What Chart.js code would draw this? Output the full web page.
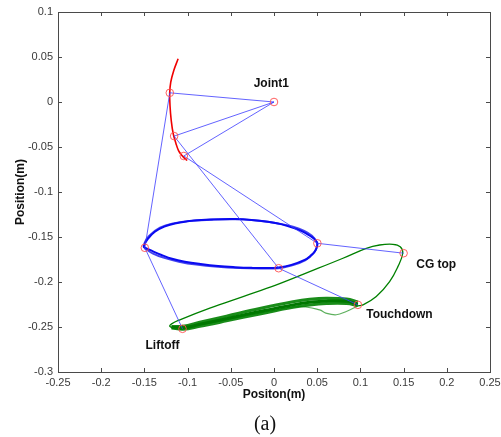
<!DOCTYPE html>
<html><head><meta charset="utf-8">
<script src="https://cdn.jsdelivr.net/npm/chart.js@4"></script>
<style>
html,body{margin:0;padding:0;background:#fff;}
#wrap{position:relative;width:501px;height:437px;}
#cap{position:absolute;left:0;width:530px;top:411px;line-height:24px;text-align:center;font-family:"Liberation Serif","Times New Roman",serif;font-size:20px;color:#111;}
</style></head>
<body><div id="wrap"><canvas id="c" width="501" height="437"></canvas><div id="cap">(a)</div></div>
<script>
// ---- axis ticks ----
const xTicks = [-0.25,-0.2,-0.15,-0.1,-0.05,0,0.05,0.1,0.15,0.2,0.25];
const yTicks = [-0.3,-0.25,-0.2,-0.15,-0.1,-0.05,0,0.05,0.1];

// ---- knee trajectory (red) ----
const kneeX = [-0.111,-0.1160,-0.1195,-0.1207,-0.1203,-0.1190,-0.1167,-0.1135,-0.1105,-0.1070,-0.1030,-0.1005];
const kneeY = [0.048,0.035,0.022,0.010,-0.005,-0.020,-0.035,-0.046,-0.054,-0.059,-0.063,-0.065];

// ---- ankle trajectory (blue loops) ----
const ankleAX = [-0.1514,-0.146,-0.1379,-0.127,-0.1148,-0.100,-0.0839,-0.065,-0.0454,-0.026,-0.0069,0.009,0.0239,0.035,0.0432,0.048,0.0502,0.0495,0.0471,0.042,0.0355,0.0201,0.0054,-0.010,-0.0261,-0.045,-0.0647,-0.085,-0.1032,-0.118,-0.1302,-0.140,-0.1475,-0.1514];
const ankleAY = [-0.1608,-0.152,-0.1442,-0.1385,-0.1349,-0.1326,-0.1312,-0.1303,-0.1301,-0.1310,-0.1331,-0.1360,-0.1404,-0.1448,-0.1497,-0.1535,-0.157,-0.1615,-0.1663,-0.171,-0.1755,-0.181,-0.1838,-0.1845,-0.1843,-0.1835,-0.1822,-0.1800,-0.1774,-0.1742,-0.1700,-0.1660,-0.1626,-0.1608];
const ankleBX = [-0.150,-0.140,-0.128,-0.110,-0.090,-0.065,-0.040,-0.015,0.005,0.020,0.036,0.046,0.050,0.049,0.044,0.035,0.022,0.005,-0.015,-0.040,-0.070,-0.095,-0.115,-0.132,-0.145,-0.150,-0.150];
const ankleBY = [-0.1625,-0.1685,-0.1730,-0.1775,-0.1808,-0.1832,-0.1845,-0.1850,-0.1848,-0.1818,-0.1760,-0.1680,-0.1600,-0.155,-0.1485,-0.1430,-0.1385,-0.1350,-0.1322,-0.1305,-0.1308,-0.1320,-0.1345,-0.1395,-0.1490,-0.1570,-0.1625];

// ---- toe trajectory (green) ----
const swingX = [-0.1059,-0.1150,-0.1206,-0.1185,-0.109,-0.0743,-0.0358,0.0028,0.0413,0.0798,0.1068,0.1222,0.1376,0.1461,0.1490,0.1434,0.1338,0.1184,0.1029,0.0971];
const swingY = [-0.2520,-0.2515,-0.2494,-0.2465,-0.242,-0.229,-0.2162,-0.2032,-0.1885,-0.1736,-0.1626,-0.1589,-0.1581,-0.1608,-0.1681,-0.1829,-0.1996,-0.2162,-0.2254,-0.2265];
const stanceX = [0.0971,0.084,0.0606,0.0413,0.022,-0.0165,-0.055,-0.0859,-0.1052,-0.1186];
const stanceUpY = [-0.2222,-0.2190,-0.2180,-0.2192,-0.2220,-0.2295,-0.2380,-0.2448,-0.2492,-0.2495];
const stanceMidY = [-0.2246,-0.2215,-0.2210,-0.2225,-0.2254,-0.2328,-0.2408,-0.2470,-0.2512,-0.2503];
const stanceLoY = [-0.2262,-0.2240,-0.2240,-0.2255,-0.2282,-0.2355,-0.2432,-0.2492,-0.2525,-0.2510];
const stanceAltX = [0.0971,0.0837,0.0721,0.060,0.0528,0.0297,0.0028,-0.0397,-0.0859,-0.118];
const stanceAltY = [-0.2265,-0.2327,-0.2364,-0.2345,-0.2309,-0.2272,-0.2309,-0.2387,-0.2475,-0.2497];

// ---- leg configurations: hip, knee, ankle, toe ----
const liftoffX = [0,-0.1206,-0.1495,-0.1059];
const liftoffY = [0,0.0102,-0.162,-0.252];
const touchdownX = [0,-0.1156,0.0054,0.0971];
const touchdownY = [0,-0.0379,-0.1847,-0.2254];
const cgTopX = [0,-0.1044,0.0502,0.150];
const cgTopY = [0,-0.060,-0.157,-0.168];

// ---- annotations ----
const labelText = ["Joint1","CG top","Touchdown","Liftoff"];
const labelX = [-0.0235,0.1646,0.1068,-0.1487];
const labelY = [0.0202,-0.181,-0.2364,-0.2704];

const zip = (xs, ys) => xs.map((x, i) => ({x, y: ys[i]}));
const jointPts = [].concat(zip(liftoffX, liftoffY), zip(touchdownX, touchdownY).slice(1), zip(cgTopX, cgTopY).slice(1));

const fmt = v => String(Math.round(v * 100) / 100);

const framePlugin = {
  id: 'frame',
  beforeDatasetsDraw(chart) {
    const {ctx, chartArea: a, scales: {x, y}} = chart;
    ctx.save();
    ctx.strokeStyle = '#4a4a4a';
    ctx.lineWidth = 1;
    ctx.strokeRect(a.left + 0.5, a.top + 0.5, a.right - a.left, a.bottom - a.top);
    const tl = 4;
    ctx.beginPath();
    xTicks.forEach(v => {
      const px = Math.round(x.getPixelForValue(v)) + 0.5;
      ctx.moveTo(px, a.bottom); ctx.lineTo(px, a.bottom - tl);
      ctx.moveTo(px, a.top); ctx.lineTo(px, a.top + tl);
    });
    yTicks.forEach(v => {
      const py = Math.round(y.getPixelForValue(v)) + 0.5;
      ctx.moveTo(a.left, py); ctx.lineTo(a.left + tl, py);
      ctx.moveTo(a.right, py); ctx.lineTo(a.right - tl, py);
    });
    ctx.stroke();
    ctx.restore();
  },
  afterDatasetsDraw(chart) {
    const {ctx, scales: {x, y}} = chart;
    ctx.save();
    ctx.fillStyle = '#111';
    ctx.font = 'bold 12px "Liberation Sans", Arial, sans-serif';
    ctx.textAlign = 'left';
    ctx.textBaseline = 'middle';
    labelText.forEach((t, i) => ctx.fillText(t, x.getPixelForValue(labelX[i]), y.getPixelForValue(labelY[i])));
    ctx.restore();
  }
};

const line = (data, color, width, order, tension) => ({
  data, borderColor: color, borderWidth: width, showLine: true, pointRadius: 0,
  tension: tension, fill: false, order
});

new Chart(document.getElementById('c'), {
  type: 'scatter',
  data: {
    datasets: [
      line(zip(stanceAltX, stanceAltY), 'rgba(40,150,40,0.75)', 1.2, 20, 0.4),
      line(zip(stanceX, stanceUpY), 'rgba(0,128,0,0.9)', 3, 19, 0.4),
      line(zip(stanceX, stanceLoY), 'rgba(0,128,0,0.9)', 3, 18, 0.4),
      line(zip(stanceX, stanceMidY), 'rgb(0,120,0)', 3, 17, 0.4),
      line(zip(swingX, swingY), 'rgb(0,128,0)', 1.3, 16, 0.4),
      line(zip(ankleBX, ankleBY), 'rgba(20,20,235,0.8)', 1.8, 15, 0.4),
      line(zip(ankleAX, ankleAY), 'rgb(10,10,240)', 2, 14, 0.4),
      line(zip(kneeX, kneeY), 'rgb(240,0,0)', 1.6, 13, 0.4),
      line(zip(liftoffX, liftoffY), 'rgba(60,60,255,0.8)', 1, 12, 0),
      line(zip(touchdownX, touchdownY), 'rgba(60,60,255,0.8)', 1, 11, 0),
      line(zip(cgTopX, cgTopY), 'rgba(60,60,255,0.8)', 1, 10, 0),
      {
        data: jointPts, showLine: false, pointRadius: 3.8, pointBorderWidth: 1,
        pointBackgroundColor: 'rgba(0,0,0,0)', pointBorderColor: 'rgba(255,80,80,0.9)', order: 1
      }
    ]
  },
  options: {
    responsive: false,
    animation: false,
    events: [],
    layout: {padding: {left: 0, right: 11, top: 12, bottom: 35}},
    plugins: {legend: {display: false}, tooltip: {enabled: false}},
    scales: {
      x: {
        type: 'linear', min: -0.25, max: 0.25,
        afterBuildTicks: s => { s.ticks = xTicks.map(v => ({value: v})); },
        afterFit: s => { s.height = 30; s.paddingLeft = 0; s.paddingRight = 0; },
        grid: {display: false, drawTicks: false},
        border: {display: false},
        ticks: {callback: fmt, padding: 4, maxRotation: 0, autoSkip: false, color: '#3a3a3a',
                font: {family: '"Liberation Sans", Arial, sans-serif', size: 11}},
        title: {display: true, text: 'Positon(m)', color: '#111', padding: {top: 0, bottom: 0},
                font: {family: '"Liberation Sans", Arial, sans-serif', size: 12, weight: 'bold'}}
      },
      y: {
        type: 'linear', min: -0.3, max: 0.1,
        afterBuildTicks: s => { s.ticks = yTicks.map(v => ({value: v})); },
        afterFit: s => { s.width = 58; s.paddingTop = 0; s.paddingBottom = 0; },
        grid: {display: false, drawTicks: false},
        border: {display: false},
        ticks: {callback: fmt, padding: 5, autoSkip: false, color: '#3a3a3a',
                font: {family: '"Liberation Sans", Arial, sans-serif', size: 11}},
        title: {display: true, text: 'Position(m)', color: '#111', padding: {top: 13, bottom: 0},
                font: {family: '"Liberation Sans", Arial, sans-serif', size: 12, weight: 'bold'}}
      }
    }
  },
  plugins: [framePlugin]
});
</script></body></html>
